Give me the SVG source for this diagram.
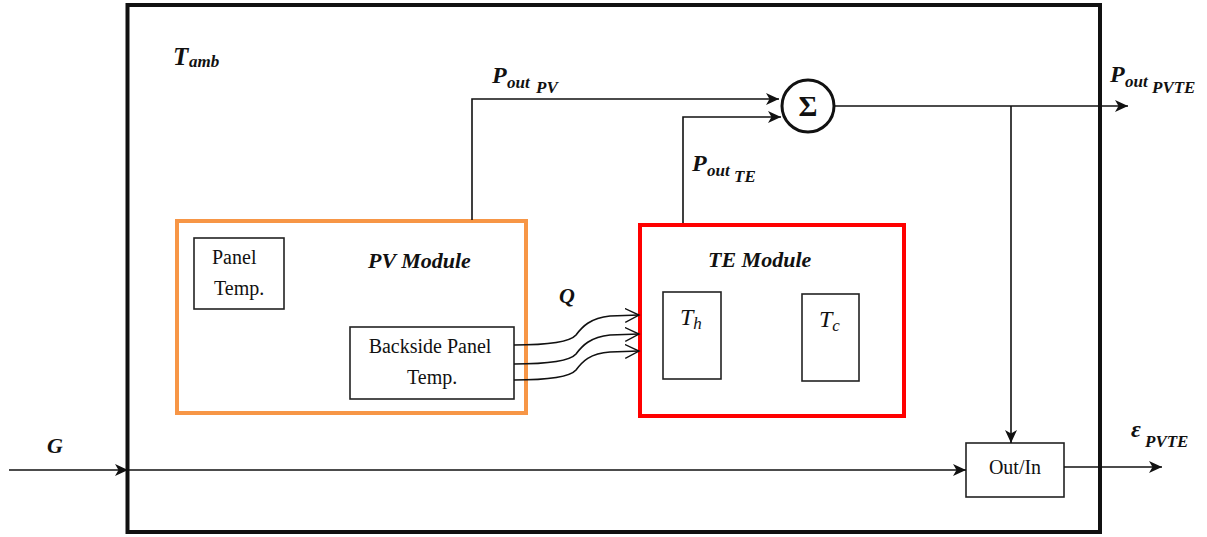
<svg xmlns="http://www.w3.org/2000/svg" width="1207" height="537" viewBox="0 0 1207 537">
<style>
.t{font-family:"Liberation Serif","Times New Roman",serif;fill:#111}
.bi{font-weight:bold;font-style:italic}
.it{font-style:italic}
.ln{fill:none;stroke:#111;stroke-width:1.6}
.box{fill:#fff;stroke:#222;stroke-width:1.6}
</style>
<defs>
<marker id="ah" markerUnits="userSpaceOnUse" markerWidth="14" markerHeight="12" refX="13" refY="6" orient="auto">
<path d="M0,0 L13,6 L0,12 L3.5,6 Z" fill="#111"/>
</marker>
<marker id="oh" markerUnits="userSpaceOnUse" markerWidth="16" markerHeight="16" refX="14" refY="7" orient="auto">
<path d="M0,0 L14,7 L0,14" fill="none" stroke="#111" stroke-width="1.4"/>
</marker>
</defs>
<rect width="1207" height="537" fill="#fff"/>
<g id="system">
<rect x="127.5" y="5" width="972.5" height="527" fill="none" stroke="#111" stroke-width="4"/>
<text class="t bi" x="173" y="65" font-size="25">T</text>
<text class="t bi" x="189" y="67" font-size="17">amb</text>
</g>
<g id="pv-module">
<rect x="177" y="221" width="349" height="192" fill="none" stroke="#F79646" stroke-width="4"/>
<text class="t bi" x="368" y="268" font-size="22">PV Module</text>
</g>
<g id="panel-temp">
<rect class="box" x="194" y="238" width="90" height="71"/>
<text class="t" x="212" y="264" font-size="20">Panel</text>
<text class="t" x="214" y="295" font-size="20">Temp.</text>
</g>
<g id="backside-panel-temp">
<rect class="box" x="350" y="327" width="164" height="72"/>
<text class="t" x="430" y="353" font-size="20" text-anchor="middle">Backside Panel</text>
<text class="t" x="407" y="384" font-size="20">Temp.</text>
</g>
<g id="te-module">
<rect x="640" y="225" width="264" height="191" fill="none" stroke="#FF0000" stroke-width="4"/>
<text class="t bi" x="708" y="267" font-size="22">TE Module</text>
</g>
<g id="th">
<rect class="box" x="663" y="292" width="58" height="87"/>
<text class="t it" x="680" y="325" font-size="24">T<tspan font-size="17" dy="4">h</tspan></text>
</g>
<g id="tc">
<rect class="box" x="802" y="294" width="57" height="87"/>
<text class="t it" x="819" y="327" font-size="24">T<tspan font-size="17" dy="4">c</tspan></text>
</g>
<g id="sum">
<circle cx="808" cy="106" r="26" fill="#fff" stroke="#111" stroke-width="3"/>
<text class="t" x="808" y="116" font-size="29" font-weight="bold" text-anchor="middle">Σ</text>
</g>
<g id="out-in">
<rect class="box" x="966" y="443" width="98" height="54"/>
<text class="t" x="1015" y="474" font-size="20" text-anchor="middle">Out/In</text>
</g>
<g id="connectors">
<path class="ln" d="M472,220 V99 H779" marker-end="url(#ah)"/>
<path class="ln" d="M683,223 V117 H781" marker-end="url(#ah)"/>
<path class="ln" d="M834,106 H1128" marker-end="url(#ah)"/>
<path class="ln" d="M1011,106 V443" marker-end="url(#ah)"/>
<path class="ln" d="M9,470 H128" marker-end="url(#ah)"/>
<path class="ln" d="M128,470 H966" marker-end="url(#ah)"/>
<path class="ln" d="M1064,467 H1162" marker-end="url(#ah)"/>
<path class="ln" d="M514,345 C545,345 570,342 576,335 C582,327 590,318 610,316 L639,315" marker-end="url(#oh)"/>
<path class="ln" d="M514,364 C545,364 570,361 576,354 C582,346 590,337 610,335 L639,334" marker-end="url(#oh)"/>
<path class="ln" d="M514,380 C545,380 570,377 576,370 C582,362 590,353 610,352 L639,351" marker-end="url(#oh)"/>
</g>
<g id="labels">
<text class="t bi" x="492" y="83" font-size="24">P</text>
<text class="t bi" x="507" y="88" font-size="17">out</text>
<text class="t bi" x="536" y="93" font-size="17">PV</text>
<text class="t bi" x="692" y="171" font-size="24">P</text>
<text class="t bi" x="707" y="176" font-size="17">out</text>
<text class="t bi" x="734" y="182" font-size="17">TE</text>
<text class="t bi" x="1110" y="82" font-size="24">P</text>
<text class="t bi" x="1125" y="87" font-size="17">out</text>
<text class="t bi" x="1152" y="93" font-size="17">PVTE</text>
<text class="t bi" x="1131" y="437" font-size="24">ε</text>
<text class="t bi" x="1145" y="447" font-size="17">PVTE</text>
<text class="t bi" x="47" y="453" font-size="22">G</text>
<text class="t bi" x="559" y="303" font-size="22">Q</text>
</g>
</svg>
